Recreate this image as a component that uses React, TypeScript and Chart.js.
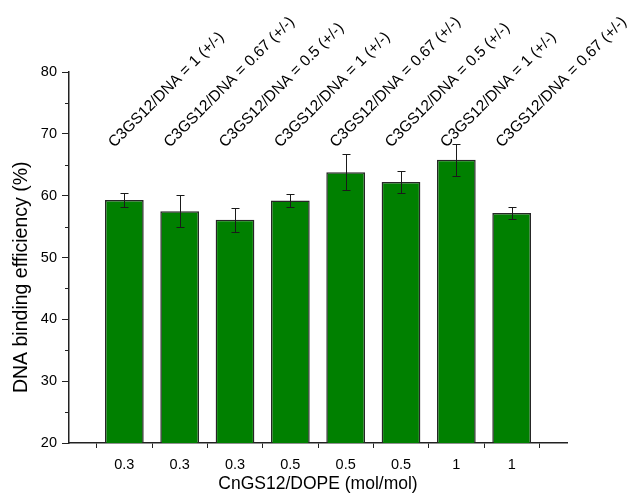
import React, { useEffect, useRef } from "react";
import { Chart, registerables } from "chart.js";

Chart.register(...registerables);

const xLabels = ["0.3", "0.3", "0.3", "0.5", "0.5", "0.5", "1", "1"];
const ratioLabels = [
  "C3GS12/DNA = 1 (+/-)",
  "C3GS12/DNA = 0.67 (+/-)",
  "C3GS12/DNA = 0.5 (+/-)",
  "C3GS12/DNA = 1 (+/-)",
  "C3GS12/DNA = 0.67 (+/-)",
  "C3GS12/DNA = 0.5 (+/-)",
  "C3GS12/DNA = 1 (+/-)",
  "C3GS12/DNA = 0.67 (+/-)",
];
const efficiency = [59.3, 57.5, 56.1, 59.2, 63.8, 62.2, 65.8, 57.2];
const errors = [1.2, 2.6, 1.9, 1.1, 2.9, 1.8, 2.6, 0.9];
const yMinorTicks = [25, 35, 45, 55, 65, 75];
const yTitle = "DNA binding efficiency (%)";
const xTitle = "CnGS12/DOPE (mol/mol)";

const FONT = "'Liberation Sans', Arial, sans-serif";
const AXIS = "#222222";

const errorBarPlugin = {
  id: "errorBars",
  afterDatasetsDraw(chart: any) {
    const ctx = chart.ctx;
    const y = chart.scales.y;
    const meta = chart.getDatasetMeta(0);
    ctx.save();
    ctx.strokeStyle = "#1a1a1a";
    ctx.lineWidth = 1;
    meta.data.forEach((bar: any, i: number) => {
      const x = Math.round(bar.x) + 0.5;
      const yTop = Math.round(y.getPixelForValue(efficiency[i] + errors[i])) + 0.5;
      const yBot = Math.round(y.getPixelForValue(efficiency[i] - errors[i])) + 0.5;
      ctx.beginPath();
      ctx.moveTo(x, yTop);
      ctx.lineTo(x, yBot);
      ctx.moveTo(x - 4, yTop);
      ctx.lineTo(x + 4, yTop);
      ctx.moveTo(x - 4, yBot);
      ctx.lineTo(x + 4, yBot);
      ctx.stroke();
    });
    ctx.restore();
  },
};

const annotationPlugin = {
  id: "ratioLabels",
  afterDraw(chart: any) {
    const ctx = chart.ctx;
    const xs = chart.scales.x;
    const ys = chart.scales.y;
    ctx.save();
    ctx.fillStyle = "#000";
    ctx.font = `15.5px ${FONT}`;
    ctx.textAlign = "left";
    ctx.textBaseline = "alphabetic";
    ratioLabels.forEach((t, i) => {
      const x = xs.getPixelForValue(i + 1) - 10;
      const yy = ys.getPixelForValue(67.7);
      ctx.save();
      ctx.translate(x, yy);
      ctx.rotate(-Math.PI / 4);
      ctx.fillText(t, 0, 0);
      ctx.restore();
    });
    // y axis title
    ctx.save();
    ctx.font = `19.5px ${FONT}`;
    ctx.textAlign = "center";
    ctx.textBaseline = "middle";
    ctx.translate(22, ys.getPixelForValue(46.8));
    ctx.rotate(-Math.PI / 2);
    ctx.fillText(yTitle, 0, 0);
    ctx.restore();
    // minor ticks on y axis
    ctx.strokeStyle = AXIS;
    ctx.lineWidth = 1;
    const left = chart.chartArea.left;
    yMinorTicks.forEach((v) => {
      const py = Math.round(ys.getPixelForValue(v)) + 0.5;
      ctx.beginPath();
      ctx.moveTo(left - 4, py);
      ctx.lineTo(left, py);
      ctx.stroke();
    });
    ctx.restore();
  },
};

export default function App() {
  const ref = useRef<HTMLCanvasElement | null>(null);
  useEffect(() => {
    if (!ref.current) return;
    const chart = new Chart(ref.current, {
      type: "bar",
      data: {
        datasets: [
          {
            data: efficiency.map((v, i) => ({ x: i + 1, y: v })),
            backgroundColor: "#008000",
            borderColor: "#262626",
            borderWidth: 1.5,
            barPercentage: 0.7,
            categoryPercentage: 1,
          },
        ],
      },
      options: {
        animation: false,
        responsive: false,
        devicePixelRatio: 1,
        layout: { padding: { left: 0, top: 72, right: 65, bottom: 0 } },
        plugins: { legend: { display: false }, tooltip: { enabled: false } },
        scales: {
          x: {
            type: "linear",
            min: 0,
            max: 9,
            offset: false,
            afterBuildTicks: (scale: any) => {
              scale.ticks = xLabels.map((_, i) => ({ value: i + 1 }));
            },
            afterFit: (scale: any) => {
              scale.height = 53;
            },
            ticks: {
              autoSkip: false,
              maxRotation: 0,
              minRotation: 0,
              padding: 8,
              color: "#000",
              font: { family: FONT, size: 14.5 },
              callback: (v: any) => xLabels[Math.round(v) - 1] ?? "",
            },
            grid: {
              offset: true,
              drawOnChartArea: false,
              tickLength: 5,
              tickColor: AXIS,
              tickWidth: 1,
            },
            border: { display: true, color: AXIS, width: 1.5 },
            title: {
              display: true,
              text: xTitle,
              color: "#000",
              font: { family: FONT, size: 17.5 },
              padding: { top: 0, bottom: 1 },
            },
          },
          y: {
            min: 20,
            max: 80,
            afterFit: (scale: any) => {
              scale.width = 69;
            },
            ticks: {
              stepSize: 10,
              padding: 5,
              color: "#000",
              font: { family: FONT, size: 14.5 },
            },
            grid: {
              drawOnChartArea: false,
              tickLength: 7,
              tickColor: AXIS,
              tickWidth: 1,
            },
            border: { display: true, color: AXIS, width: 1.5 },
            title: { display: false },
          },
        },
      },
      plugins: [errorBarPlugin, annotationPlugin],
    } as any);
    return () => chart.destroy();
  }, []);
  return (
    <div style={{ position: "absolute", left: 0, top: 0, width: 632, height: 496, background: "#fff" }}>
      <canvas ref={ref} width={632} height={496} />
    </div>
  );
}
